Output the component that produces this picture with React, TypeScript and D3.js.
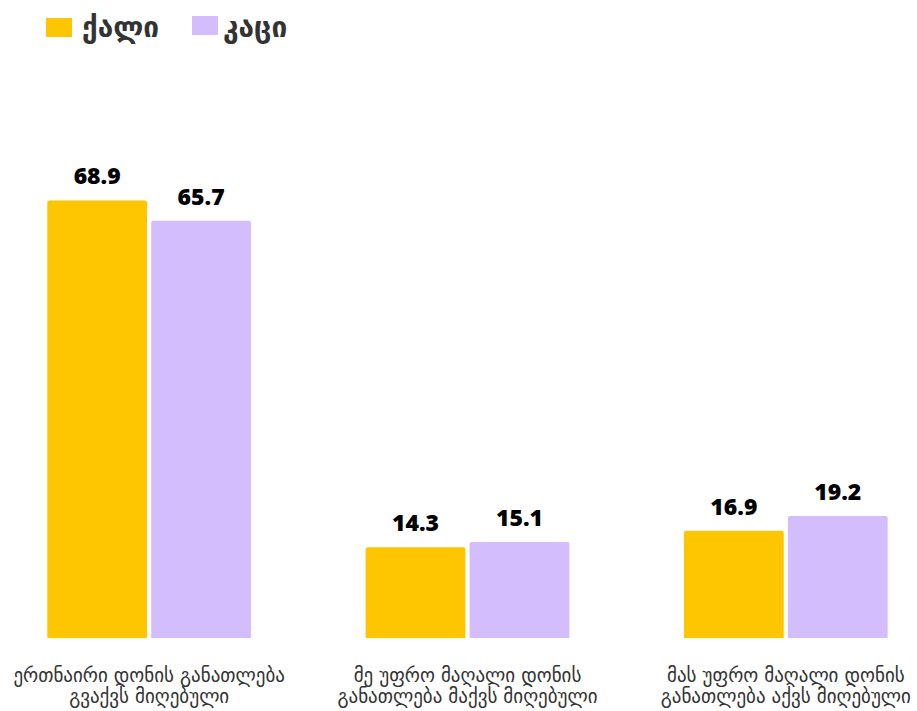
import React, { useEffect, useRef } from 'react';
import * as d3 from 'd3';

const categories = [
  ['ერთნაირი დონის განათლება', 'გვაქვს მიღებული'],
  ['მე უფრო მაღალი დონის', 'განათლება მაქვს მიღებული'],
  ['მას უფრო მაღალი დონის', 'განათლება აქვს მიღებული'],
];
const seriesNames = ['ქალი', 'კაცი'];
const women = [68.9, 14.3, 16.9];
const men = [65.7, 15.1, 19.2];
const colors = ['#fec601', '#d3bdfd'];

const width = 917;
const height = 711;

const App = () => {
  const svgRef = useRef<SVGSVGElement>(null);

  useEffect(() => {
    const svg = d3.select(svgRef.current);
    svg.selectAll('*').remove();

    const keys = categories.map((c) => c.join(' '));
    const data = keys.map((k, i) => ({ key: k, lines: categories[i], values: [women[i], men[i]] }));

    const x0 = d3.scaleBand().domain(keys).range([-10, 945]).paddingInner(0.36).paddingOuter(0.18);
    const x1 = d3.scaleBand().domain(seriesNames).range([0, x0.bandwidth()]).paddingInner(0.04);
    const y = d3.scaleLinear().domain([0, 80]).range([638, 130]);

    const groups = svg.append('g')
      .selectAll('g')
      .data(data)
      .join('g')
      .attr('transform', (d) => `translate(${x0(d.key)},0)`);

    const bars = groups.selectAll('g.bar')
      .data((d) => d.values.map((v, i) => ({ name: seriesNames[i], value: v, i })))
      .join('g')
      .attr('class', 'bar');

    bars.append('path')
      .attr('fill', (d) => colors[d.i])
      .attr('d', (d) => {
        const bx = x1(d.name)!;
        const bw = x1.bandwidth();
        const top = y(d.value);
        const bottom = y(0);
        const r = 2;
        return `M${bx},${bottom}V${top + r}Q${bx},${top} ${bx + r},${top}H${bx + bw - r}Q${bx + bw},${top} ${bx + bw},${top + r}V${bottom}Z`;
      });

    bars.append('text')
      .attr('x', (d) => x1(d.name)! + x1.bandwidth() / 2)
      .attr('y', (d) => y(d.value) - 16)
      .attr('text-anchor', 'middle')
      .attr('font-family', '"Open Sans", "Noto Sans", sans-serif')
      .attr('font-weight', 800)
      .attr('font-size', 23)
      .attr('fill', '#000')
      .text((d) => d.value.toFixed(1));

    // category labels
    const labels = svg.append('g')
      .selectAll('text')
      .data(data)
      .join('text')
      .attr('x', (d) => x0(d.key)! + x0.bandwidth() / 2)
      .attr('y', 682)
      .attr('text-anchor', 'middle')
      .attr('font-family', '"DejaVu Sans", sans-serif')
      .attr('font-size', 19)
      .attr('fill', '#333');
    labels.selectAll('tspan')
      .data((d) => d.lines)
      .join('tspan')
      .attr('x', function () {
        return (this.parentNode as SVGTextElement).getAttribute('x');
      })
      .attr('dy', (_, i) => (i === 0 ? 0 : 21))
      .text((d) => d);

    // legend
    const legendX = [46, 192];
    const legend = svg.append('g')
      .selectAll('g')
      .data(seriesNames)
      .join('g')
      .attr('transform', (_, i) => `translate(${legendX[i]},16)`);
    legend.append('rect')
      .attr('y', (_, i) => (i === 0 ? 2 : 0))
      .attr('width', 26)
      .attr('height', 19)
      .attr('fill', (_, i) => colors[i]);
    legend.append('text')
      .attr('x', (_, i) => (i === 0 ? 36 : 31))
      .attr('y', 21)
      .attr('font-family', '"DejaVu Sans", sans-serif')
      .attr('font-weight', 700)
      .attr('font-size', 28)
      .attr('fill', '#333')
      .text((d) => d);
  }, []);

  return (
    <svg
      ref={svgRef}
      width={width}
      height={height}
      style={{ position: 'absolute', left: 0, top: 0, background: '#fff' }}
    />
  );
};

export default App;
